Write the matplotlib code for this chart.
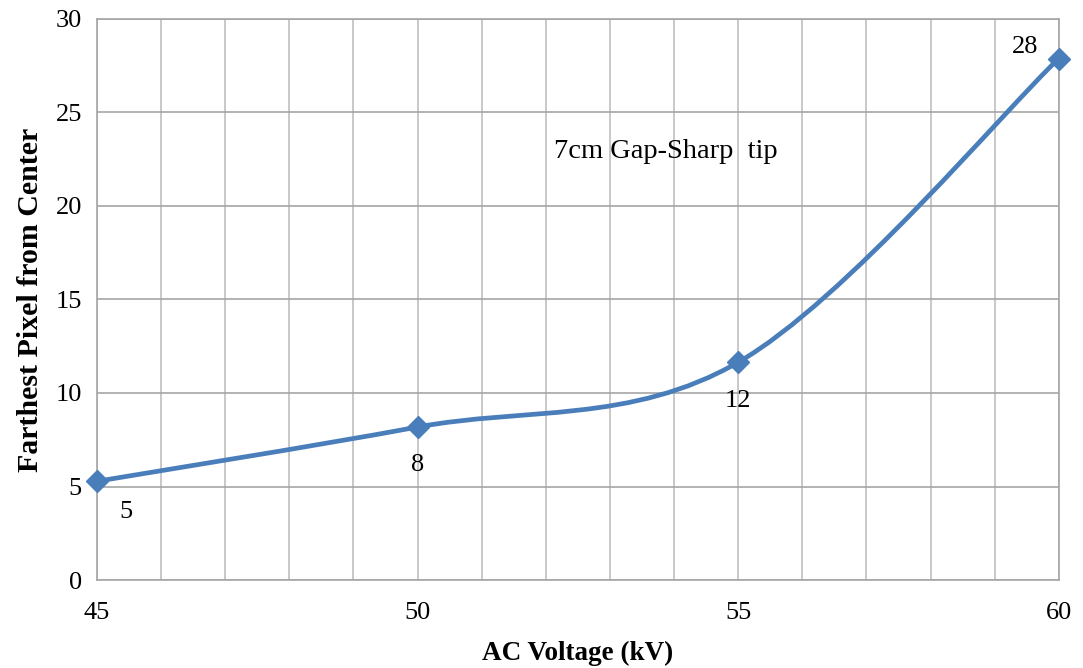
import numpy as np
import matplotlib.pyplot as plt
from matplotlib.path import Path
from matplotlib.patches import PathPatch

# data
voltage = [45, 50, 55, 60]
pixels = [5.28, 8.18, 11.64, 27.88]
labels = ['5', '8', '12', '28']
label_offsets = [(21, -22), (0, -27), (0, -28), (-24, 8)]

plt.rcParams['font.family'] = ['Liberation Serif', 'DejaVu Serif']

fig = plt.figure(figsize=(10.83, 6.68), dpi=100)
ax = fig.add_axes([0.0896, 0.1317, 0.888, 0.84])

blue = '#4a7ebb'

# smoothed line like Excel: cubic bezier segments with catmull-rom tangents
pts = np.column_stack([voltage, pixels]).astype(float)
n = len(pts)
verts = [pts[0]]
codes = [Path.MOVETO]
for i in range(n - 1):
    p0 = pts[max(i - 1, 0)]
    p1 = pts[i]
    p2 = pts[i + 1]
    p3 = pts[min(i + 2, n - 1)]
    c1 = p1 + (p2 - p0) / 6
    c2 = p2 - (p3 - p1) / 6
    verts += [c1, c2, p2]
    codes += [Path.CURVE4] * 3
curve = PathPatch(Path(verts, codes), facecolor='none', edgecolor=blue, lw=3.4,
                  capstyle='round', zorder=3)
ax.add_patch(curve)
ax.plot(voltage, pixels, ls='none', marker='D', ms=11, color=blue, zorder=4,
        clip_on=False)

for x, y, lab, off in zip(voltage, pixels, labels, label_offsets):
    ax.annotate(lab, (x, y), xytext=off, textcoords='offset points',
                ha='center', va='center', fontsize=19)

ax.text(53.87, 22.9, '7cm Gap-Sharp  tip', ha='center', va='center', fontsize=20.5)

ax.set_xlim(45, 60)
ax.set_ylim(0, 30)
ax.set_xticks([45, 50, 55, 60])
ax.set_xticks(np.arange(45, 61, 1), minor=True)
ax.set_yticks(np.arange(0, 31, 5))
ax.grid(True, which='both', axis='x', color='#bfbfbf', lw=1.2)
ax.grid(True, which='major', axis='y', color='#a6a6a6', lw=1.2)
ax.set_axisbelow(True)
ax.tick_params(which='both', length=0, labelsize=19)
ax.tick_params(axis='x', pad=16)
ax.tick_params(axis='y', pad=11)
for s in ax.spines.values():
    s.set_color('#a6a6a6')
    s.set_linewidth(1.2)

ax.set_xlabel('AC Voltage (kV)', fontsize=19.5, fontweight='bold', labelpad=12)
ax.set_ylabel('Farthest Pixel from Center', fontsize=21.5, fontweight='bold', labelpad=8)

fig.savefig('out.png', dpi=100)
